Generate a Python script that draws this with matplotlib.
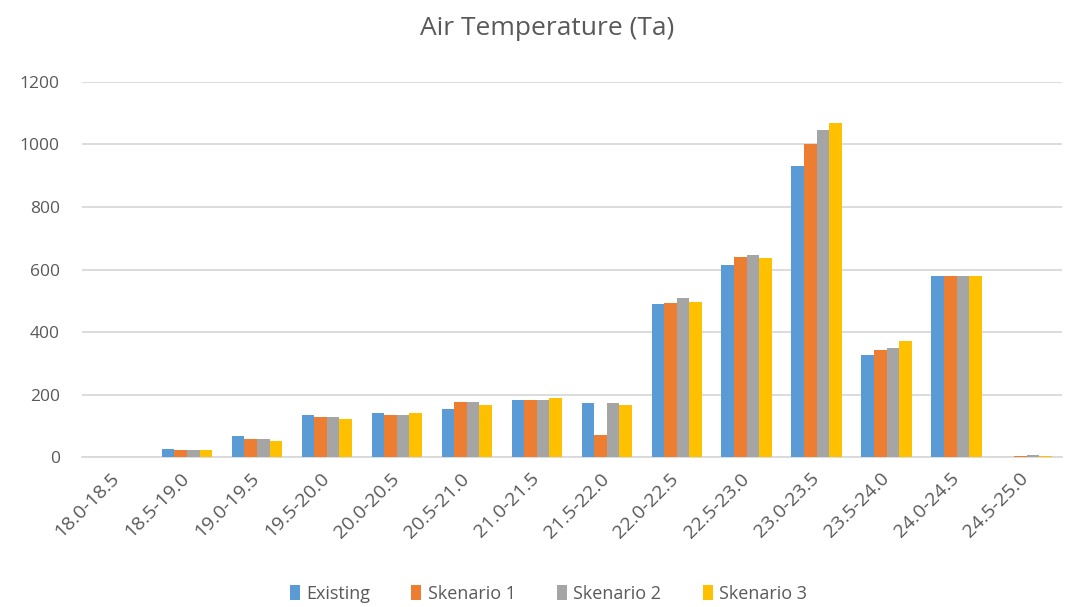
import matplotlib
matplotlib.use("Agg")
import matplotlib.pyplot as plt
import matplotlib.transforms as mtransforms
import numpy as np

categories = ["18.0-18.5", "18.5-19.0", "19.0-19.5", "19.5-20.0", "20.0-20.5", "20.5-21.0",
              "21.0-21.5", "21.5-22.0", "22.0-22.5", "22.5-23.0", "23.0-23.5", "23.5-24.0",
              "24.0-24.5", "24.5-25.0"]
existing   = [0, 25, 66, 133, 141, 153, 181, 173, 490, 615, 930, 328, 580, 0]
skenario1  = [0, 24, 59, 128, 136, 176, 181, 70, 493, 640, 1000, 343, 580, 5]
skenario2  = [0, 24, 59, 127, 136, 176, 182, 172, 510, 645, 1045, 350, 580, 7]
skenario3  = [0, 22, 53, 122, 141, 168, 189, 168, 495, 638, 1070, 370, 580, 5]
series_names = ["Existing", "Skenario 1", "Skenario 2", "Skenario 3"]
colors = ["#5B9BD5", "#ED7D31", "#A5A5A5", "#FFC000"]

plt.rcParams['font.family'] = ['Open Sans', 'DejaVu Sans']

fig = plt.figure(figsize=(10.69, 6.07), dpi=100)
ax = fig.add_axes([0.0767, 0.247, 0.9163, 0.618])

x = np.arange(len(categories))
w = 0.18
for i, (vals, name, c) in enumerate(zip([existing, skenario1, skenario2, skenario3], series_names, colors)):
    ax.bar(x + (i - 1.5) * w, vals, width=w, color=c, label=name, zorder=3)

ax.set_xlim(-0.5, len(categories) - 0.5)
ax.set_ylim(0, 1200)
ax.set_yticks(np.arange(0, 1201, 200))
ax.yaxis.grid(True, color="#D9D9D9", linewidth=1.3, zorder=0)
for s in ["top", "right", "left"]:
    ax.spines[s].set_visible(False)
ax.spines["bottom"].set_color("#D9D9D9")
ax.spines["bottom"].set_linewidth(1.3)
ax.tick_params(axis="both", length=0, colors="#595959")
ax.tick_params(axis="y", pad=16, labelsize=12.5)
ax.tick_params(axis="x", pad=9, labelsize=14)
ax.set_xticks(x)
ax.set_xticklabels(categories, rotation=45, ha="right", rotation_mode="anchor")
offset = mtransforms.ScaledTranslation(-7 / 100, 0, fig.dpi_scale_trans)
for lbl in ax.get_xticklabels():
    lbl.set_transform(lbl.get_transform() + offset)

fig.text(0.512, 0.953, "Air Temperature (Ta)", ha="center", va="center", fontsize=19,
         color="#595959", fontweight="medium")

handles, labels = ax.get_legend_handles_labels()
fig.legend(handles, labels, loc="center", bbox_to_anchor=(0.513, 0.022), ncol=4, frameon=False,
           fontsize=13, labelcolor="#595959", handlelength=0.55, handleheight=0.9, handletextpad=0.35,
           columnspacing=2.3)

fig.savefig("out.png", dpi=100)
